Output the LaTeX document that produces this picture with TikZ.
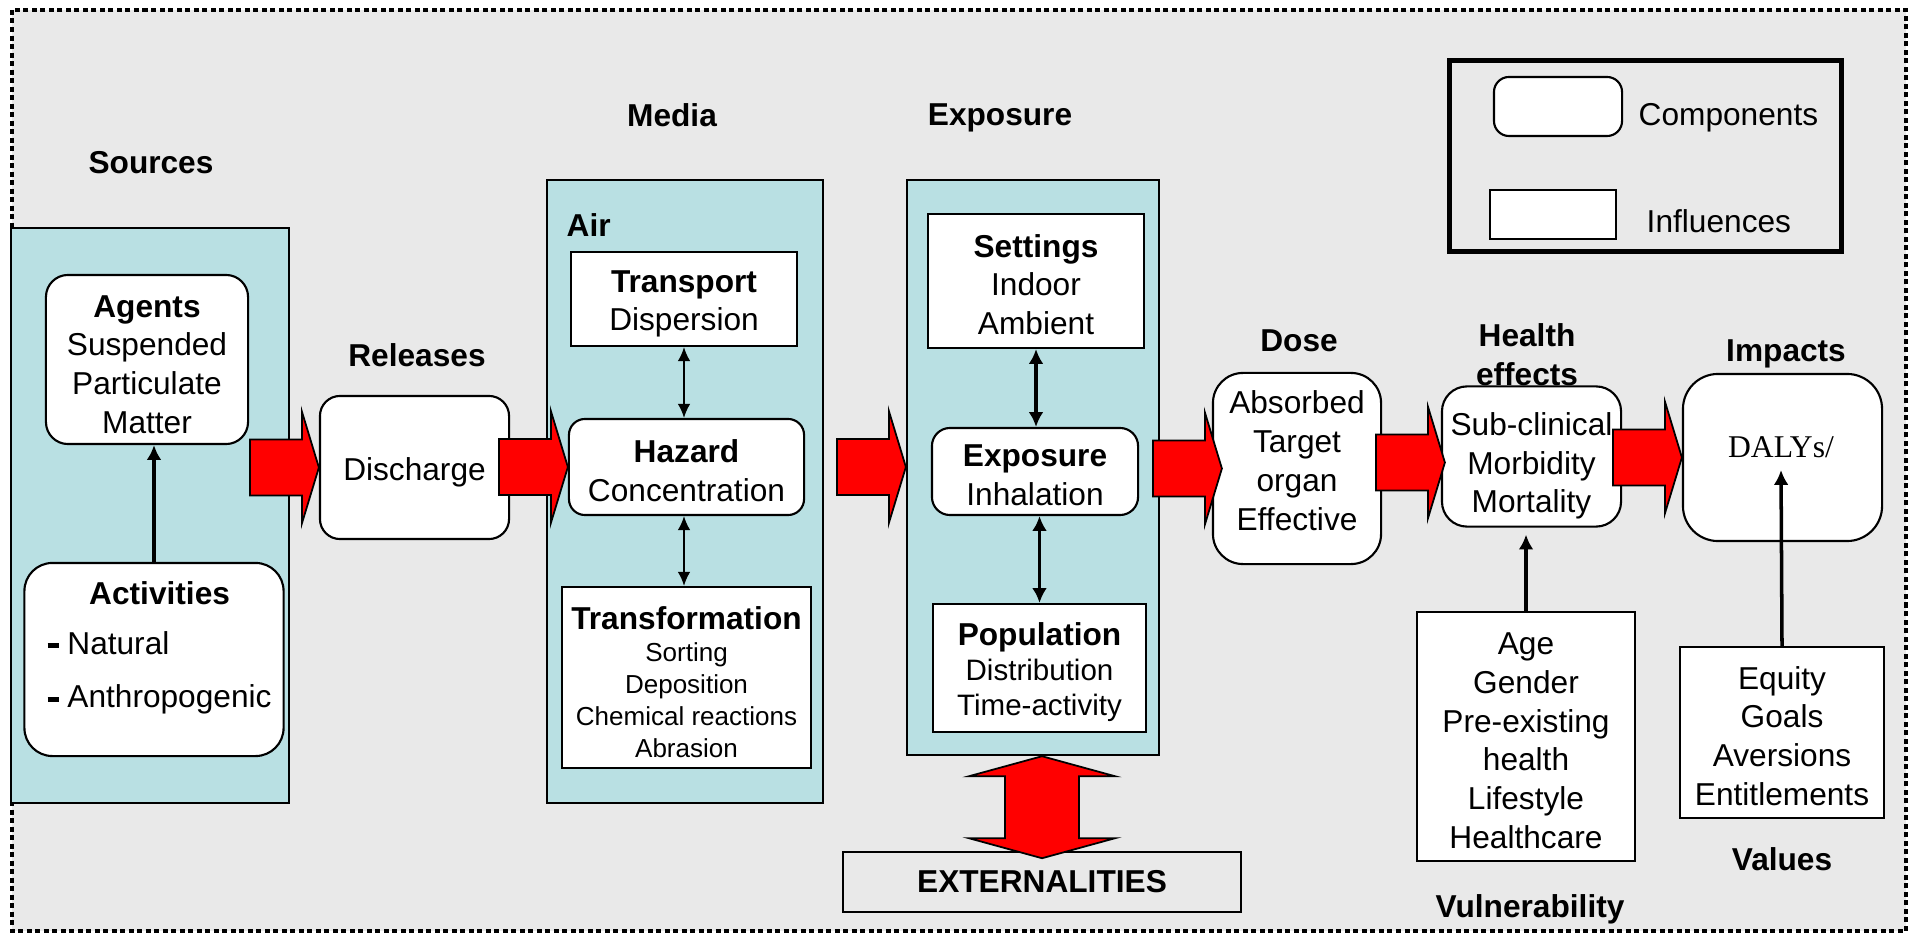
\documentclass[tikz,border=0pt]{standalone}
\usepackage{fontspec}
\setmainfont{Liberation Sans}
\newfontfamily\serifdaly{Liberation Serif}
\usetikzlibrary{arrows.meta,calc}
\definecolor{panelblue}{RGB}{185,224,227}
\definecolor{backgrey}{RGB}{233,233,233}
\definecolor{flowred}{RGB}{255,0,0}
\newcommand{\flowarrow}[1]{\filldraw[flow] (#1) -- ++(-17,-56) -- ++(0,28) -- ++(-52,0) -- ++(0,56) -- ++(52,0) -- ++(0,28) -- cycle;}
\newcommand{\bardash}{\rule[1.7pt]{3.1pt}{1.4pt}}
\newcommand{\topstrut}[1][9pt]{\rule{0pt}{#1}}
\begin{document}
\begin{tikzpicture}[x=0.01cm, y=-0.01cm,
	every node/.style={font=\fontsize{9}{11}\selectfont},
	panel/.style={draw, fill=panelblue, line width=0.6pt, inner sep=0pt},
	comp/.style={draw, fill=white, line width=0.6pt, rounded corners=0.22cm, align=center, inner sep=2pt},
	infl/.style={draw, fill=white, line width=0.6pt, align=center, inner sep=2pt},
	heading/.style={font=\fontsize{9}{11}\selectfont\bfseries, align=center},
	thinlink/.style={line width=0.5pt, {Latex[length=4pt,width=3.6pt]}-{Latex[length=4pt,width=3.6pt]}},
	thicklink/.style={line width=1pt, -{Latex[length=4.2pt,width=4.2pt]}},
	thickboth/.style={line width=1pt, {Latex[length=4.2pt,width=4.2pt]}-{Latex[length=4.2pt,width=4.2pt]}},
	flow/.style={fill=flowred, draw=black, line width=0.5pt}]
		\useasboundingbox (0,0) rectangle (1910,934);
		\draw[fill=backgrey, line width=1.3pt, dash pattern=on 0.05cm off 0.035cm] (12,10) rectangle (1906,931);
		\node[panel, minimum width=2.78cm, minimum height=5.75cm] (srcpanel) at (150,515.5) {};
		\node[heading] (sources) at (151,163) {Sources};
		\node[comp, minimum width=2.02cm, minimum height=1.69cm] (agents) at (147,359.5) {\topstrut\textbf{Agents}\\Suspended\\Particulate\\Matter};
		\node[comp, rounded corners=0.28cm, minimum width=2.59cm, minimum height=1.93cm] (act) at (154,659.5) {};
		\node[anchor=north west, inner sep=0pt] (acttext) at (47,577) {\begin{tabular}{@{}l@{}}\multicolumn{1}{@{}c@{}}{\textbf{Activities}}\\[3pt] \bardash\ Natural\\[4.3pt] \bardash\ Anthropogenic\end{tabular}};
		\node[heading] (releases) at (417,355) {Releases};
		\node[comp, rounded corners=0.2cm, minimum width=1.89cm, minimum height=1.43cm] (disc) at (414.5,467.5) {\topstrut Discharge};
		\node[heading] (media) at (672,115) {Media};
		\node[panel, minimum width=2.76cm, minimum height=6.23cm] (airpanel) at (685,491.5) {};
		\node[heading, anchor=west, inner sep=0pt] (air) at (566,225) {Air};
		\node[infl, minimum width=2.26cm, minimum height=0.94cm] (transp) at (684,299) {\topstrut\textbf{Transport}\\Dispersion};
		\node[comp, rounded corners=0.16cm, minimum width=2.35cm, minimum height=0.96cm] (haz) at (686.5,467) {\topstrut[8.7pt]\textbf{Hazard}\\Concentration};
		\node[infl, font=\fontsize{7.4}{9.1}\selectfont, minimum width=2.49cm, minimum height=1.81cm] (transf) at (686.5,677.5) {\topstrut{\fontsize{9}{9.1}\selectfont\bfseries Transformation}\\Sorting\\Deposition\\Chemical reactions\\Abrasion};
		\node[heading] (exposure) at (1000,118) {Exposure};
		\node[panel, minimum width=2.52cm, minimum height=5.75cm] (exppanel) at (1033,467.5) {};
		\node[infl, minimum width=2.16cm, minimum height=1.34cm] (sett) at (1036,281) {\topstrut[8.5pt]\textbf{Settings}\\Indoor\\Ambient};
		\node[comp, rounded corners=0.18cm, minimum width=2.06cm, minimum height=0.87cm] (expo) at (1035,471.5) {\topstrut[8.2pt]\textbf{Exposure}\\Inhalation};
		\node[infl, font=\fontsize{8.4}{10}\selectfont, minimum width=2.13cm, minimum height=1.28cm] (popu) at (1039.5,668) {\topstrut{\fontsize{9}{10}\selectfont\bfseries Population}\\Distribution\\Time-activity};
		\node[draw, line width=0.6pt, minimum width=3.98cm, minimum height=0.6cm, font=\fontsize{9}{11}\selectfont\bfseries] (ext) at (1042,882) {EXTERNALITIES};
		\node[heading] (dosehead) at (1299,341) {Dose};
		\node[comp, rounded corners=0.3cm, minimum width=1.68cm, minimum height=1.91cm] (dose) at (1297,468.5) {\topstrut Absorbed\\Target\\organ\\Effective\rule[-7pt]{0pt}{0pt}};
		\node[heading] (healthhead) at (1527,354.5) {Health\\effects};
		\node[comp, rounded corners=0.25cm, minimum width=1.79cm, minimum height=1.27cm] (hlth) at (1531.5,456.5) {\topstrut[12pt]Sub-clinical\\Morbidity\\Mortality};
		\node[heading] (impacthead) at (1786,354) {Impacts};
		\node[comp, rounded corners=0.35cm, minimum width=1.99cm, minimum height=1.67cm] (imp) at (1782.5,457.5) {};
		\node[font=\fontsize{9}{11}\serifdaly] (daly) at (1781,447) {DALYs/};
		\node[infl, minimum width=2.18cm, minimum height=2.49cm] (vul) at (1526,736.5) {\topstrut[8.7pt]Age\\Gender\\Pre-existing\\health\\Lifestyle\\Healthcare};
		\node[heading] (vulhead) at (1530,909) {Vulnerability};
		\node[infl, minimum width=2.04cm, minimum height=1.71cm] (vals) at (1782,732.5) {\topstrut[8.5pt]Equity\\Goals\\Aversions\\Entitlements};
		\node[heading] (valhead) at (1782,859) {Values};
		\node[draw, line width=1.4pt, minimum width=3.91cm, minimum height=1.9cm] (legend) at (1645.5,156) {};
		\node[comp, rounded corners=0.15cm, minimum width=1.28cm, minimum height=0.59cm] (legcomp) at (1558,106.5) {};
		\node[anchor=west, inner sep=0pt] (legcomptext) at (1638,118) {Components};
		\node[infl, minimum width=1.26cm, minimum height=0.49cm] (leginfl) at (1553,214.5) {};
		\node[anchor=west, inner sep=0pt] (leginfltext) at (1646,221) {Influences};
		\draw[thicklink] (act.north) -- (act.north |- agents.south);
		\draw[thinlink] (transp.south) -- (transp.south |- haz.north);
		\draw[thinlink] (transp.south |- haz.south) -- (transp.south |- transf.north);
		\draw[thickboth] (sett.south) -- (sett.south |- expo.north);
		\draw[thickboth] (popu.north |- expo.south) -- (popu.north);
		\draw[thicklink, shorten >=0.07cm] (vul.north) -- (vul.north |- hlth.south);
		\draw[thicklink] (vals.north) -- (daly.south);
		\flowarrow{disc.west}
		\flowarrow{haz.west}
		\flowarrow{exppanel.west |- haz.west}
		\flowarrow{$(dose.west)+(10,0)$}
		\flowarrow{$(hlth.west)+(4,6)$}
		\flowarrow{imp.west}
		\filldraw[flow] (ext.north |- exppanel.south) -- ++(73,20) -- ++(-36,0) -- ++(0,62) -- ++(36,0) -- ++(-73,20) -- ++(-73,-20) -- ++(36,0) -- ++(0,-62) -- ++(-36,0) -- cycle;
	\end{tikzpicture}
\end{document}
